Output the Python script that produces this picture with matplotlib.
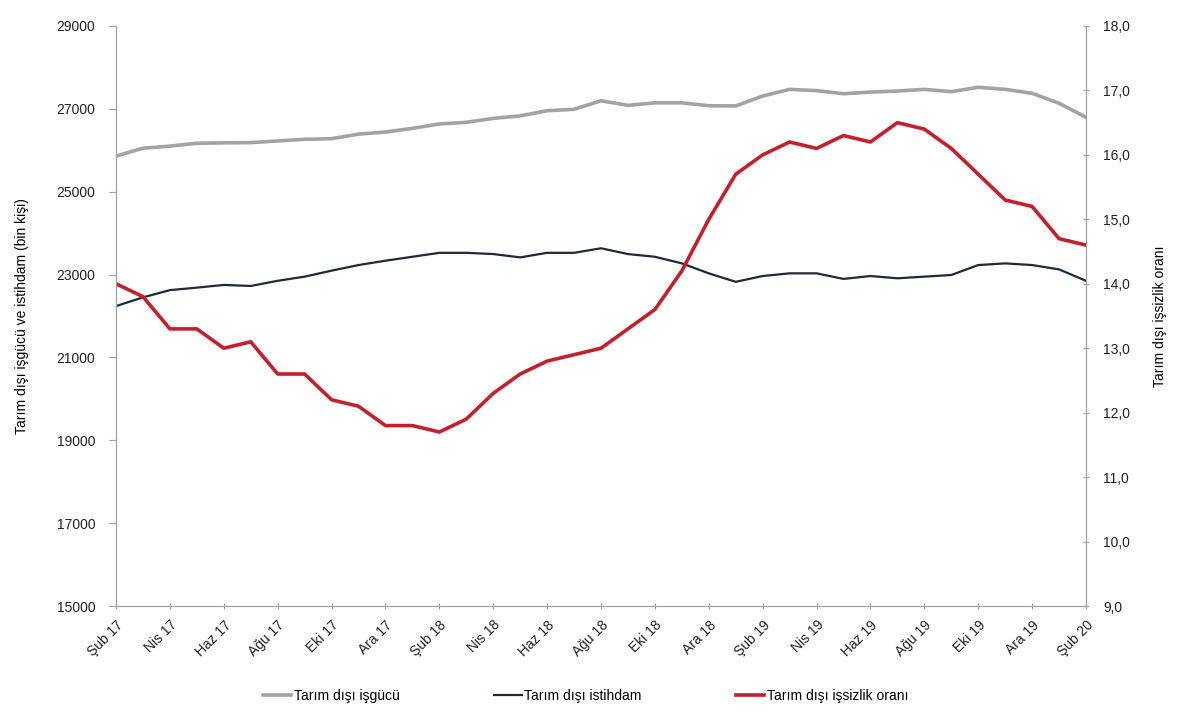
import matplotlib
matplotlib.use("Agg")
import matplotlib.pyplot as plt
import numpy as np

plt.rcParams['font.family'] = ['Liberation Sans', 'DejaVu Sans']

# aylar: Şub 17 - Şub 20
ay_adlari = ["Oca", "Şub", "Mar", "Nis", "May", "Haz", "Tem", "Ağu", "Eyl", "Eki", "Kas", "Ara"]
aylar = []
for yil in (17, 18, 19, 20):
    for a in range(12):
        aylar.append("%s %d" % (ay_adlari[a], yil))
aylar = aylar[1:38]

# Tarım dışı işgücü (bin kişi)
isgucu = [25860, 26050, 26100, 26170, 26180, 26185, 26225, 26265, 26280, 26390,
          26440, 26530, 26635, 26675, 26770, 26830, 26955, 26990, 27195, 27085,
          27145, 27145, 27075, 27070, 27310, 27470, 27440, 27365, 27405, 27430,
          27470, 27415, 27520, 27470, 27375, 27135, 26795]

# Tarım dışı istihdam (bin kişi)
istihdam = [22240, 22450, 22625, 22685, 22750, 22725, 22850, 22950, 23095, 23230,
            23335, 23430, 23525, 23525, 23495, 23415, 23525, 23525, 23635, 23495,
            23430, 23270, 23030, 22825, 22965, 23030, 23030, 22895, 22965, 22910,
            22950, 22990, 23230, 23270, 23230, 23125, 22850]

# Tarım dışı işsizlik oranı (%)
issizlik = [14.0, 13.8, 13.3, 13.3, 13.0, 13.1, 12.6, 12.6, 12.2, 12.1,
            11.8, 11.8, 11.7, 11.9, 12.3, 12.6, 12.8, 12.9, 13.0, 13.3,
            13.6, 14.2, 15.0, 15.7, 16.0, 16.2, 16.1, 16.3, 16.2, 16.5,
            16.4, 16.1, 15.7, 15.3, 15.2, 14.7, 14.6]

x = np.arange(len(aylar))
renk_eksen = "#A0A0A0"

fig = plt.figure(figsize=(12, 7.2), dpi=100)
ax = fig.add_axes([0.0967, 0.1583, 0.8083, 0.8056])
ax2 = ax.twinx()

l1, = ax.plot(x, isgucu, color="#A3A3A3", lw=2.6, label="Tarım dışı işgücü")
l2, = ax.plot(x, istihdam, color="#1C2B38", lw=1.6, label="Tarım dışı istihdam")
l3, = ax2.plot(x, issizlik, color="#C3202C", lw=2.6, label="Tarım dışı işsizlik oranı")

ax.set_xlim(0, len(aylar) - 1)
ax.set_ylim(15000, 29000)
ax.set_yticks(np.arange(15000, 29001, 2000))
ax2.set_ylim(9, 18)
ax2.set_yticks(np.arange(9, 18.01, 1))
ax2.set_yticklabels([("%.1f" % v).replace(".", ",") for v in np.arange(9, 18.01, 1)])

ax.set_xticks(x[::2])
ax.set_xticklabels(aylar[::2], rotation=45, ha="right", rotation_mode="anchor")

for a in (ax, ax2):
    a.spines['top'].set_visible(False)
    for s in ('left', 'right', 'bottom'):
        a.spines[s].set_color(renk_eksen)
    a.tick_params(colors="#222222", labelsize=10, length=5, color=renk_eksen)
ax.tick_params(axis='x', direction='inout', pad=6)
ax.tick_params(axis='y', pad=10)
ax2.tick_params(axis='y', direction='inout', pad=10)

ax.set_ylabel("Tarım dışı işgücü ve istihdam (bin kişi)", fontsize=10, labelpad=20)
ax2.set_ylabel("Tarım dışı işsizlik oranı", fontsize=10, labelpad=16)

fig.legend(handles=[l1, l2, l3], loc="center", bbox_to_anchor=(0.488, 0.033),
           ncol=3, frameon=False, fontsize=10, handlelength=2.0,
           handletextpad=0.2, columnspacing=6.8)

fig.savefig("out.png", dpi=100, facecolor="white")
